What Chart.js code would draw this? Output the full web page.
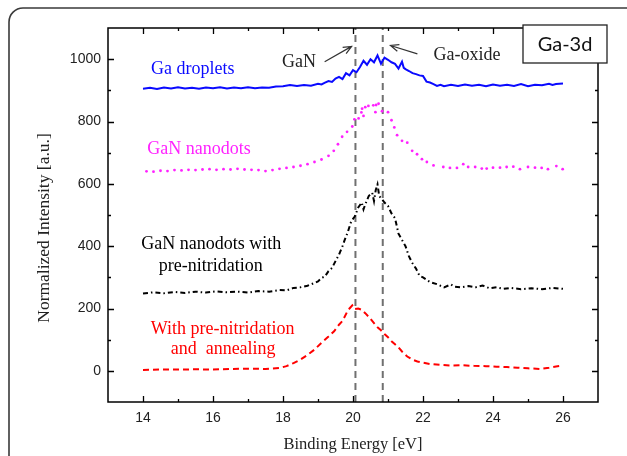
<!DOCTYPE html>
<html>
<head>
<meta charset="utf-8">
<script src="https://cdn.jsdelivr.net/npm/chart.js@4.4.0/dist/chart.umd.min.js"></script>
<style>
  body { margin: 0; background: #fff; }
  canvas { display: block; }
</style>
</head>
<body>
<canvas id="xps" width="627" height="456"></canvas>
<script>
// Ga-3d XPS spectra
const xTicks = [14, 16, 18, 20, 22, 24, 26];
const yTicks = [0, 200, 400, 600, 800, 1000];

// Ga droplets (solid blue)
const dropletsE = [14.0, 14.2, 14.4, 14.6, 14.8, 15.0, 15.2, 15.4, 15.6, 15.8, 16.0, 16.2, 16.4, 16.6, 16.8, 17.0, 17.2, 17.4, 17.6, 17.8, 18.0, 18.2, 18.4, 18.6, 18.8, 19.0, 19.1, 19.2, 19.3, 19.4, 19.5, 19.6, 19.7, 19.8, 19.9, 20.0, 20.1, 20.2, 20.3, 20.4, 20.5, 20.6, 20.7, 20.8, 20.9, 21.0, 21.1, 21.2, 21.3, 21.4, 21.45, 21.5, 21.6, 21.7, 21.8, 21.9, 22.0, 22.1, 22.2, 22.3, 22.4, 22.5, 22.6, 22.8, 23.0, 23.2, 23.4, 23.6, 23.8, 24.0, 24.2, 24.4, 24.6, 24.8, 25.0, 25.2, 25.4, 25.6, 25.7, 25.8, 26.0];
const dropletsI = [905, 908, 904, 909, 906, 910, 906, 908, 905, 909, 907, 910, 906, 909, 907, 910, 907, 909, 908, 912, 913, 917, 914, 917, 915, 921, 919, 925, 930, 927, 938, 943, 936, 955, 948, 965, 958, 975, 995, 982, 1000, 990, 1012, 985, 1005, 998, 990, 985, 970, 992, 972, 968, 962, 955, 952, 948, 946, 928, 925, 920, 914, 918, 913, 918, 914, 919, 915, 918, 913, 919, 915, 918, 914, 920, 913, 918, 916, 921, 917, 920, 922];

// GaN nanodots (magenta dots)
const nanodotsE = [14.1, 14.3, 14.5, 14.7, 14.9, 15.1, 15.3, 15.5, 15.7, 15.9, 16.1, 16.3, 16.5, 16.7, 16.9, 17.1, 17.3, 17.5, 17.7, 17.9, 18.1, 18.3, 18.5, 18.7, 18.9, 19.1, 19.3, 19.45, 19.57, 19.69, 19.83, 19.98, 20.04, 20.16, 20.24, 20.3, 20.26, 20.35, 20.44, 20.58, 20.66, 20.73, 20.64, 20.83, 21.0, 21.1, 21.18, 21.26, 21.4, 21.55, 21.69, 21.83, 21.97, 22.11, 22.3, 22.58, 22.77, 22.97, 23.15, 23.29, 23.49, 23.68, 23.82, 24.0, 24.2, 24.39, 24.58, 24.77, 25.0, 25.2, 25.39, 25.57, 25.81, 25.99];
const nanodotsI = [640, 639, 642, 641, 644, 643, 645, 644, 646, 647, 645, 647, 646, 648, 646, 645, 644, 641, 644, 648, 651, 654, 658, 663, 670, 678, 690, 706, 727, 751, 767, 784, 807, 810, 829, 818, 841, 846, 850, 852, 853, 857, 830, 833, 830, 804, 781, 756, 738, 732, 706, 695, 679, 670, 659, 654, 651, 651, 663, 654, 654, 649, 649, 652, 652, 654, 655, 647, 654, 652, 651, 647, 657, 647];

// GaN nanodots with pre-nitridation (black dash-dot)
const preNitE = [14.0, 14.3, 14.6, 14.9, 15.2, 15.5, 15.8, 16.1, 16.4, 16.7, 17.0, 17.3, 17.6, 17.9, 18.1, 18.3, 18.5, 18.7, 18.9, 19.0, 19.1, 19.2, 19.3, 19.4, 19.5, 19.6, 19.7, 19.75, 19.85, 19.95, 20.05, 20.15, 20.25, 20.3, 20.35, 20.45, 20.55, 20.6, 20.65, 20.7, 20.75, 20.8, 20.9, 21.0, 21.1, 21.2, 21.3, 21.4, 21.5, 21.6, 21.7, 21.8, 21.9, 22.0, 22.2, 22.4, 22.6, 22.8, 22.9, 23.1, 23.3, 23.5, 23.7, 23.9, 24.1, 24.3, 24.5, 24.8, 25.1, 25.4, 25.7, 26.0];
const preNitI = [248, 252, 249, 253, 250, 254, 251, 255, 252, 254, 251, 256, 254, 259, 258, 266, 268, 273, 282, 287, 298, 303, 320, 330, 352, 373, 400, 416, 445, 480, 495, 524, 540, 518, 534, 561, 571, 545, 580, 598, 560, 555, 540, 529, 505, 490, 440, 420, 400, 367, 345, 328, 305, 300, 285, 278, 268, 277, 270, 268, 272, 268, 274, 265, 268, 263, 266, 262, 265, 262, 266, 263];

// with pre-nitridation and annealing (red dashed)
const annealE = [14.0, 14.5, 15.0, 15.5, 16.0, 16.5, 17.0, 17.5, 17.9, 18.1, 18.3, 18.5, 18.7, 18.9, 19.1, 19.3, 19.46, 19.6, 19.7, 19.84, 19.9, 19.98, 20.05, 20.15, 20.25, 20.35, 20.46, 20.6, 20.7, 20.8, 20.9, 21.0, 21.1, 21.2, 21.3, 21.4, 21.55, 21.7, 21.84, 22.0, 22.2, 22.5, 22.8, 23.1, 23.45, 23.8, 24.1, 24.4, 24.7, 25.0, 25.35, 25.6, 25.8, 26.0];
const annealI = [3, 4, 4, 5, 4, 6, 7, 6, 9, 15, 25, 36, 51, 68, 90, 110, 127, 148, 160, 191, 200, 210, 198, 200, 196, 185, 172, 153, 140, 130, 118, 108, 95, 85, 75, 62, 46, 36, 30, 26, 22, 19, 17, 18, 16, 15, 13, 12, 10, 8, 6, 10, 14, 17];

// reference positions (GaN / Ga-oxide)
const refLines = [20.07, 20.85];

function pts(xs, ys) {
  return xs.map((x, i) => ({ x: x, y: ys[i] }));
}

const datasets = [
  { data: pts(dropletsE, dropletsI), borderColor: '#0a0aff', borderWidth: 2, pointRadius: 0 },
  { data: pts(nanodotsE, nanodotsI), showLine: false, pointRadius: 1.4, pointBackgroundColor: '#ff22ff', pointBorderWidth: 0 },
  { data: pts(preNitE, preNitI), borderColor: '#000', borderWidth: 2, borderDash: [5, 3, 1.5, 3], pointRadius: 0 },
  { data: pts(annealE, annealI), borderColor: '#ff0000', borderWidth: 2, borderDash: [6, 4], pointRadius: 0 }
];
refLines.forEach(e => {
  datasets.push({ data: [{ x: e, y: -100 }, { x: e, y: 1100 }], borderColor: '#707070', borderWidth: 2, borderDash: [7, 5], pointRadius: 0 });
});

// text on the plot, placed in data units
const serif = '18px "Liberation Serif", "Times New Roman", serif';
const labels = [
  { text: 'Ga droplets', x: 14.23, y: 969, color: '#0a0aff' },
  { text: 'GaN nanodots', x: 14.12, y: 711, color: '#ff22ff' },
  { text: 'GaN nanodots with', x: 13.95, y: 405, color: '#000' },
  { text: 'pre-nitridation', x: 14.45, y: 336, color: '#000' },
  { text: 'With pre-nitridation', x: 14.22, y: 134, color: '#ff0000' },
  { text: 'and  annealing', x: 14.79, y: 68, color: '#ff0000' },
  { text: 'GaN', x: 17.97, y: 990, color: '#222' },
  { text: 'Ga-oxide', x: 22.3, y: 1014, color: '#222' }
];
const arrows = [
  { from: [19.19, 992], to: [19.96, 1041] },
  { from: [21.84, 1017], to: [21.07, 1044] }
];

const decor = {
  id: 'decor',
  beforeDraw(chart) {
    const ctx = chart.ctx;
    ctx.save();
    ctx.strokeStyle = '#3a3a3a';
    ctx.lineWidth = 1.6;
    ctx.beginPath();
    ctx.roundRect(9, 8, 700, 520, 14);
    ctx.stroke();
    ctx.restore();
  },
  afterDraw(chart) {
    const ctx = chart.ctx;
    const a = chart.chartArea;
    const xs = chart.scales.x, ys = chart.scales.y;
    ctx.save();
    // frame
    ctx.strokeStyle = '#000';
    ctx.lineWidth = 1.5;
    ctx.strokeRect(a.left, a.top, a.right - a.left, a.bottom - a.top);
    // inward ticks
    ctx.lineWidth = 1.3;
    ctx.beginPath();
    for (let v = 14; v <= 26; v++) {
      const px = Math.round(xs.getPixelForValue(v)) + 0.5;
      const len = v % 2 === 0 ? 6 : 3;
      ctx.moveTo(px, a.bottom); ctx.lineTo(px, a.bottom - len);
      ctx.moveTo(px, a.top); ctx.lineTo(px, a.top + len);
    }
    for (let v = 0; v <= 1000; v += 100) {
      const py = Math.round(ys.getPixelForValue(v)) + 0.5;
      const len = v % 200 === 0 ? 6 : 3;
      ctx.moveTo(a.left, py); ctx.lineTo(a.left + len, py);
      ctx.moveTo(a.right, py); ctx.lineTo(a.right - len, py);
    }
    ctx.stroke();

    // y axis title, centred a little below the plot middle as in the figure
    ctx.save();
    ctx.translate(44, 228);
    ctx.rotate(-Math.PI / 2);
    ctx.font = '17.5px "Liberation Serif", "Times New Roman", serif';
    ctx.fillStyle = '#222';
    ctx.textAlign = 'center';
    ctx.textBaseline = 'middle';
    ctx.fillText('Normalized Intensity [a.u.]', 0, 0);
    ctx.restore();

    // labels
    ctx.font = serif;
    ctx.textAlign = 'left';
    ctx.textBaseline = 'middle';
    labels.forEach(l => {
      ctx.fillStyle = l.color;
      ctx.fillText(l.text, xs.getPixelForValue(l.x), ys.getPixelForValue(l.y));
    });

    // arrows
    ctx.strokeStyle = '#333';
    ctx.lineWidth = 1.2;
    arrows.forEach(ar => {
      const x0 = xs.getPixelForValue(ar.from[0]), y0 = ys.getPixelForValue(ar.from[1]);
      const x1 = xs.getPixelForValue(ar.to[0]), y1 = ys.getPixelForValue(ar.to[1]);
      const ang = Math.atan2(y1 - y0, x1 - x0);
      ctx.beginPath();
      ctx.moveTo(x0, y0); ctx.lineTo(x1, y1);
      ctx.moveTo(x1 - 9 * Math.cos(ang - 0.4), y1 - 9 * Math.sin(ang - 0.4));
      ctx.lineTo(x1, y1);
      ctx.lineTo(x1 - 9 * Math.cos(ang + 0.4), y1 - 9 * Math.sin(ang + 0.4));
      ctx.stroke();
    });

    // Ga-3d box
    const bx = a.right - 75, by = a.top - 3, bw = 84, bh = 38;
    ctx.fillStyle = '#fff';
    ctx.fillRect(bx, by, bw, bh);
    ctx.strokeStyle = '#222';
    ctx.lineWidth = 1.3;
    ctx.strokeRect(bx, by, bw, bh);
    ctx.fillStyle = '#111';
    ctx.font = '20px Lato, "Open Sans", sans-serif';
    ctx.textAlign = 'center';
    ctx.fillText('Ga-3d', bx + bw / 2, by + bh / 2 + 1);
    ctx.restore();
  }
};

const tickFont = { family: '"Liberation Sans", Arial, sans-serif', size: 14 };
const titleFont = { family: '"Liberation Serif", "Times New Roman", serif', size: 16.5 };

new Chart(document.getElementById('xps'), {
  type: 'line',
  data: { datasets: datasets },
  options: {
    responsive: false,
    animation: false,
    devicePixelRatio: 1,
    layout: { padding: { left: 0, right: 29, top: 28, bottom: 0 } },
    plugins: { legend: { display: false }, tooltip: { enabled: false } },
    scales: {
      x: {
        type: 'linear',
        min: 13, max: 27,
        grid: { display: false, drawTicks: false },
        border: { display: false },
        afterBuildTicks: s => { s.ticks = xTicks.map(v => ({ value: v })); },
        afterFit: s => { s.height = 54; },
        ticks: { font: tickFont, color: '#222', padding: 8, maxRotation: 0, callback: v => String(v) },
        title: { display: true, text: 'Binding Energy [eV]', font: titleFont, color: '#222', padding: { top: 0, bottom: 1 } }
      },
      y: {
        min: -100, max: 1100,
        grid: { display: false, drawTicks: false },
        border: { display: false },
        afterBuildTicks: s => { s.ticks = yTicks.map(v => ({ value: v })); },
        afterFit: s => { s.width = 108; },
        ticks: { font: tickFont, color: '#222', padding: 7, callback: v => String(v) },
        title: { display: false }
      }
    }
  },
  plugins: [decor]
});
</script>
</body>
</html>
